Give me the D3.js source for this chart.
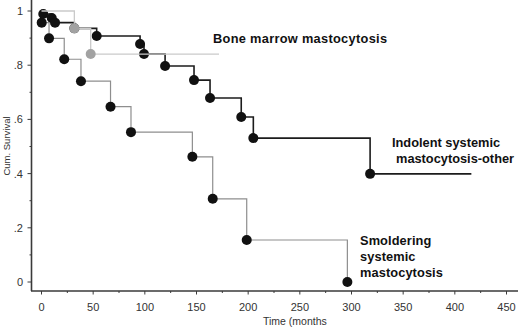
<!DOCTYPE html>
<html>
<head>
<meta charset="utf-8">
<script src="https://cdn.jsdelivr.net/npm/d3@7"></script>
<style>
    body { margin: 0; background: #fff; }
    svg text { font-family: "Liberation Sans", Arial, sans-serif; }
</style>
</head>
<body>
<div id="chart"></div>
<script>
    "use strict";

    // event times (months) and survival after each event
    const smolderingTimes = [0.2, 7.3, 22, 38.2, 66.8, 86.6, 146, 165.7, 198.6, 296];
    const smolderingSurvival = [0.957, 0.899, 0.822, 0.741, 0.647, 0.553, 0.462, 0.307, 0.155, 0];
    const smolderingEnd = 296;

    const indolentTimes = [1.7, 9.9, 13.1, 31.8, 53.4, 95.4, 99.2, 119.6, 147.6, 163.1, 193.3, 205, 318];
    const indolentSurvival = [0.989, 0.974, 0.957, 0.936, 0.908, 0.878, 0.841, 0.797, 0.745, 0.679, 0.609, 0.531, 0.399];
    const indolentEnd = 416;

    const boneMarrowTimes = [31.8, 47.6];
    const boneMarrowSurvival = [0.936, 0.841];
    const boneMarrowEnd = 171.8;

    const xTicks = [0, 50, 100, 150, 200, 250, 300, 350, 400, 450];
    const yTicks = [0, 0.2, 0.4, 0.6, 0.8, 1];
    const yTickLabels = ["0", ".2", ".4", ".6", ".8", "1"];

    const width = 520;
    const height = 331;

    let xScale = d3.scaleLinear().domain([0, 450]).range([41.5, 506.5]);
    let yScale = d3.scaleLinear().domain([0, 1]).range([282, 11]);

    let svg = d3.select("#chart").append("svg")
        .attr("width", width)
        .attr("height", height);

    // axes lines
    const axisColor = "#3a3a3a";
    svg.append("line")
        .attr("x1", 31.5).attr("x2", 31.5)
        .attr("y1", 0).attr("y2", 291)
        .attr("stroke", axisColor).attr("stroke-width", 1.6);
    svg.append("line")
        .attr("x1", 31).attr("x2", 518)
        .attr("y1", 291).attr("y2", 291)
        .attr("stroke", axisColor).attr("stroke-width", 1.6);

    // y ticks (major + minor)
    let yMinor = d3.range(0, 1.001, 0.1);
    svg.selectAll(".ytick")
        .data(yMinor)
        .enter()
        .append("line")
        .attr("x1", (d, i) => i % 2 === 0 ? 27.5 : 29.5)
        .attr("x2", 31)
        .attr("y1", d => yScale(d))
        .attr("y2", d => yScale(d))
        .attr("stroke", axisColor)
        .attr("stroke-width", 1);

    svg.selectAll(".ylabel")
        .data(yTicks)
        .enter()
        .append("text")
        .attr("x", 23)
        .attr("y", d => yScale(d) + 4)
        .attr("text-anchor", "end")
        .style("font-size", "11px")
        .style("fill", "#333")
        .text((d, i) => yTickLabels[i]);

    // x ticks (major + minor)
    let xMinor = d3.range(0, 451, 25);
    svg.selectAll(".xtick")
        .data(xMinor)
        .enter()
        .append("line")
        .attr("x1", d => xScale(d))
        .attr("x2", d => xScale(d))
        .attr("y1", 291)
        .attr("y2", (d, i) => i % 2 === 0 ? 294.5 : 293)
        .attr("stroke", axisColor)
        .attr("stroke-width", 1);

    svg.selectAll(".xlabel")
        .data(xTicks)
        .enter()
        .append("text")
        .attr("x", d => xScale(d))
        .attr("y", 311)
        .attr("text-anchor", "middle")
        .style("font-size", "11px")
        .style("fill", "#333")
        .text(d => d);

    // axis titles
    svg.append("text")
        .attr("transform", "translate(10,146) rotate(-90)")
        .attr("text-anchor", "middle")
        .style("font-size", "9.5px")
        .style("fill", "#333")
        .text("Cum. Survival");

    svg.append("text")
        .attr("x", 263)
        .attr("y", 325)
        .style("font-size", "10.5px")
        .style("fill", "#333")
        .text("Time  (months");

    // builds step path of a survival curve
    function stepPath(times, survival, end) {
        let p = `M${xScale(0)},${yScale(1)}`;
        for (let i = 0; i < times.length; i++) {
            p += `H${xScale(times[i])}V${yScale(survival[i])}`;
        }
        p += `H${xScale(end)}`;
        return p;
    }

    function drawCurve(times, survival, end, lineColor, lineWidth, dotColor) {
        svg.append("path")
            .attr("d", stepPath(times, survival, end))
            .attr("fill", "none")
            .attr("stroke", lineColor)
            .attr("stroke-width", lineWidth);

        svg.selectAll(null)
            .data(times.map((t, i) => ({ x: t, y: survival[i] })))
            .enter()
            .append("circle")
            .attr("cx", d => xScale(d.x))
            .attr("cy", d => yScale(d.y))
            .attr("r", 5)
            .style("fill", dotColor);
    }

    drawCurve(smolderingTimes, smolderingSurvival, smolderingEnd, "#8e8e8e", 1.2, "#111");
    drawCurve(indolentTimes, indolentSurvival, indolentEnd, "#1c1c1c", 1.6, "#111");
    drawCurve(boneMarrowTimes, boneMarrowSurvival, boneMarrowEnd, "#cacaca", 1.3, "#a2a2a2");

    // curve labels
    function label(lines, x, y, dx, spacing) {
        let t = svg.append("text")
            .style("font-size", "12.8px")
            .style("font-weight", "bold")
            .style("letter-spacing", `${spacing}px`)
            .style("fill", "#111");
        lines.forEach((s, i) => {
            t.append("tspan")
                .attr("x", x + (dx ? dx[i] : 0))
                .attr("y", y + i * 16)
                .text(s);
        });
    }

    label(["Bone marrow mastocytosis"], 213, 43, null, 0.3);
    label(["Indolent systemic", "mastocytosis-other"], 392, 147, [0, 4], 0);
    label(["Smoldering", "systemic", "mastocytosis"], 360, 245, null, 0.1);
</script>
</body>
</html>
